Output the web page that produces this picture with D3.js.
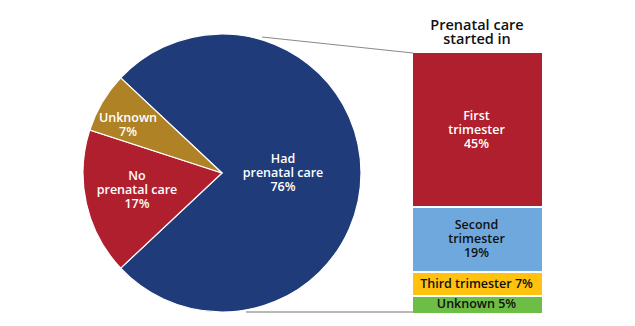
<!DOCTYPE html>
<html><head><meta charset="utf-8">
<script src="https://cdn.jsdelivr.net/npm/d3@7"></script>
<style>body{margin:0;background:#fff}svg{display:block}text{font-family:"Open Sans",sans-serif;font-weight:600}</style>
</head><body><svg id="c" width="635" height="326"></svg>
<script>
const pieLabels = [["Had","prenatal care","76%"],["No","prenatal care","17%"],["Unknown","7%"]];
const pieValues = [76, 17, 7];
const pieColors = ["#1F3B79", "#B01F2D", "#AF8226"];
const barLabels = [["First","trimester","45%"],["Second","trimester","19%"],["Third trimester 7%"],["Unknown 5%"]];
const barValues = [45, 19, 7, 5];
const barColors = ["#B01F2D", "#6FA8DC", "#FFC20E", "#6CBE45"];
const barTextColors = ["#fff", "#111", "#111", "#111"];
const title = ["Prenatal care", "started in"];

const svg = d3.select("#c");
const cx = 222, cy = 173, r = 139;
const blueSpan = pieValues[0] / 100 * 2 * Math.PI;
const start = Math.PI / 2 - blueSpan / 2;
const pie = d3.pie().sort(null).startAngle(start).endAngle(start + 2 * Math.PI);
const arcs = pie(pieValues);
const arc = d3.arc().innerRadius(0).outerRadius(r);
const g = svg.append("g").attr("transform", `translate(${cx},${cy})`);
g.selectAll("path").data(arcs).join("path").attr("d", arc)
  .attr("fill", (d, i) => pieColors[i]).attr("stroke", "#fff").attr("stroke-width", 1.2);

// first-line baseline offsets of each pie label, relative to the pie centre
const labelPos = [[61, -10], [-85, 7], [-94, -51]];
const lh = 14;
arcs.forEach((d, i) => {
  const t = g.append("text").attr("text-anchor", "middle").attr("fill", "#fff").attr("font-size", 12.5);
  pieLabels[i].forEach((s, j) => t.append("tspan").attr("x", labelPos[i][0]).attr("y", labelPos[i][1] + j * lh).text(s));
});

// stacked bar
const bx = 413, bw = 129, by0 = 53, by1 = 313;
const total = d3.sum(barValues);
const y = d3.scaleLinear().domain([0, total]).range([by0, by1]);
let acc = 0;
const segs = barValues.map(v => { const s = { a: acc, b: acc + v }; acc += v; return s; });
svg.selectAll("rect.seg").data(segs).join("rect").attr("class", "seg")
  .attr("x", bx).attr("width", bw)
  .attr("y", (d, i) => y(d.a) + (i ? 1 : 0))
  .attr("height", (d, i) => y(d.b) - y(d.a) - (i ? 1 : 0))
  .attr("fill", (d, i) => barColors[i]);
svg.selectAll("line.sep").data(segs.slice(1)).join("line").attr("class", "sep")
  .attr("x1", bx).attr("x2", bx + bw).attr("y1", d => y(d.a)).attr("y2", d => y(d.a))
  .attr("stroke", "#fff").attr("stroke-width", 2);
segs.forEach((d, i) => {
  const lines = barLabels[i];
  const mid = (y(d.a) + y(d.b)) / 2;
  const t = svg.append("text").attr("text-anchor", "middle").attr("fill", barTextColors[i]).attr("font-size", 12.5);
  lines.forEach((s, j) => t.append("tspan").attr("x", bx + bw / 2 - 1)
    .attr("y", mid - (lines.length - 1) * lh / 2 + j * lh + 3.8).text(s));
});

// connectors
svg.append("line").attr("x1", 262).attr("y1", 37).attr("x2", bx).attr("y2", by0).attr("stroke", "#8a8a8a").attr("stroke-width", 1.2);
svg.append("line").attr("x1", 246).attr("y1", 312).attr("x2", bx).attr("y2", 312).attr("stroke", "#a0a0a0").attr("stroke-width", 1.5);

const tt = svg.append("text").attr("text-anchor", "middle").attr("fill", "#111").attr("font-size", 14.5).attr("font-weight", 700);
title.forEach((s, j) => tt.append("tspan").attr("x", 477).attr("y", 30 + j * 14).text(s));
</script></body></html>
